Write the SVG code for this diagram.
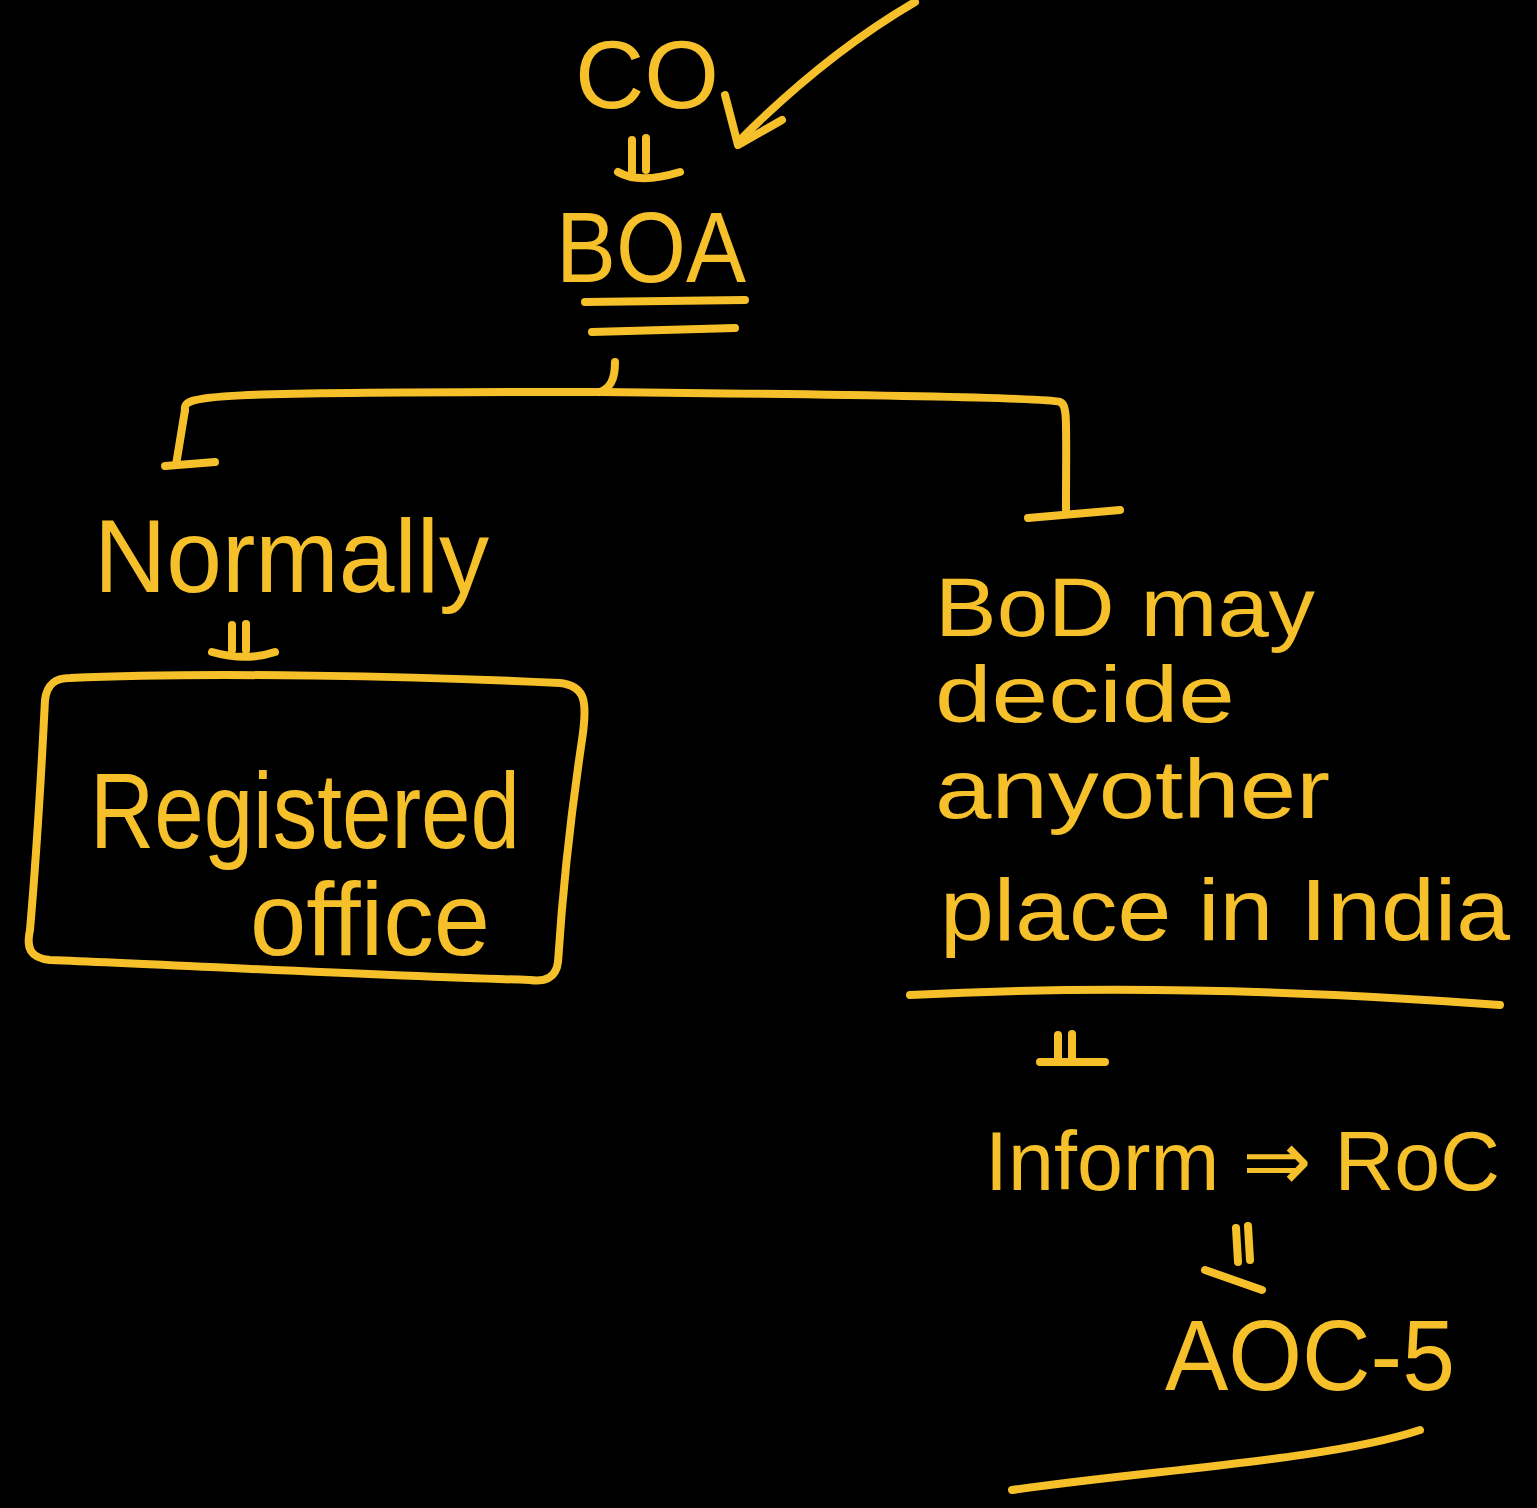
<svg xmlns="http://www.w3.org/2000/svg" width="1537" height="1508" viewBox="0 0 1537 1508">
  <style>
    .ink { fill: none; stroke: #F6C02B; stroke-width: 8; stroke-linecap: round; stroke-linejoin: round; }
    .txt { fill: #F6C02B; font-family: "Liberation Sans", "DejaVu Sans", sans-serif; }
  </style>
  <rect width="1537" height="1508" fill="#000"/>

  <!-- connectors -->
  <g id="connectors" class="ink">
    <!-- incoming arrow to CO -->
    <path d="M915,2 C850,40 790,90 740,140"/>
    <path d="M725,95 L738,145 L782,120"/>
    <!-- CO to BOA -->
    <path d="M632,140 L632,172 M646,138 L646,170 M618,172 C635,182 660,178 680,172"/>
    <!-- BOA double underline -->
    <path d="M585,302 L745,300"/>
    <path d="M592,332 L735,328"/>
    <!-- branch -->
    <path d="M615,362 C615,380 610,388 600,392"/>
    <path d="M185,410 C182,395 200,392 600,392 C900,395 1050,398 1060,402 C1068,405 1066,420 1066,510"/>
    <path d="M185,410 L176,465"/>
    <path d="M165,466 L215,462"/>
    <path d="M1028,518 L1120,510"/>
    <!-- Normally to box -->
    <path d="M232,625 L232,650 M246,624 L246,650 M212,652 C240,660 260,657 275,652"/>
    <!-- right underline -->
    <path d="M910,995 C1100,985 1300,990 1500,1005"/>
    <!-- decide to Inform -->
    <path d="M1058,1035 L1058,1060 M1072,1034 L1072,1060 M1040,1062 L1105,1062"/>
    <!-- RoC to AOC -->
    <path d="M1236,1228 L1238,1262 M1248,1226 L1250,1260 M1205,1270 L1262,1290"/>
    <!-- AOC underline -->
    <path d="M1012,1490 C1150,1470 1330,1460 1420,1430"/>
  </g>

  <g id="node-co">
    <text class="txt" x="575" y="108" font-size="96">CO</text>
  </g>

  <g id="node-boa">
    <text class="txt" x="556" y="282" font-size="100" textLength="190" lengthAdjust="spacingAndGlyphs">BOA</text>
  </g>

  <g id="node-normally">
    <text class="txt" x="94" y="592" font-size="104" textLength="395" lengthAdjust="spacingAndGlyphs">Normally</text>
  </g>

  <g id="node-registered-office">
    <path class="ink" d="M70,678 C200,672 420,676 560,683 C585,686 588,700 582,740 C570,820 562,900 558,962 C556,978 545,982 530,980 C380,976 180,965 50,960 C30,958 26,948 30,930 C36,860 42,760 45,700 C47,684 55,678 70,678 Z"/>
    <text class="txt" x="90" y="848" font-size="108" textLength="430" lengthAdjust="spacingAndGlyphs">Registered</text>
    <text class="txt" x="250" y="955" font-size="104" textLength="240" lengthAdjust="spacingAndGlyphs">office</text>
  </g>

  <g id="node-bod">
    <text class="txt" x="935" y="636" font-size="84" textLength="380" lengthAdjust="spacingAndGlyphs">BoD may</text>
    <text class="txt" x="935" y="722" font-size="80" textLength="300" lengthAdjust="spacingAndGlyphs">decide</text>
    <text class="txt" x="935" y="818" font-size="84" textLength="395" lengthAdjust="spacingAndGlyphs">anyother</text>
    <text class="txt" x="940" y="940" font-size="88" textLength="570" lengthAdjust="spacingAndGlyphs">place in India</text>
  </g>

  <g id="node-inform">
    <text class="txt" x="985" y="1190" font-size="84" textLength="515" lengthAdjust="spacingAndGlyphs">Inform ⇒ RoC</text>
  </g>

  <g id="node-aoc">
    <text class="txt" x="1165" y="1390" font-size="100" textLength="290" lengthAdjust="spacingAndGlyphs">AOC-5</text>
  </g>
</svg>
